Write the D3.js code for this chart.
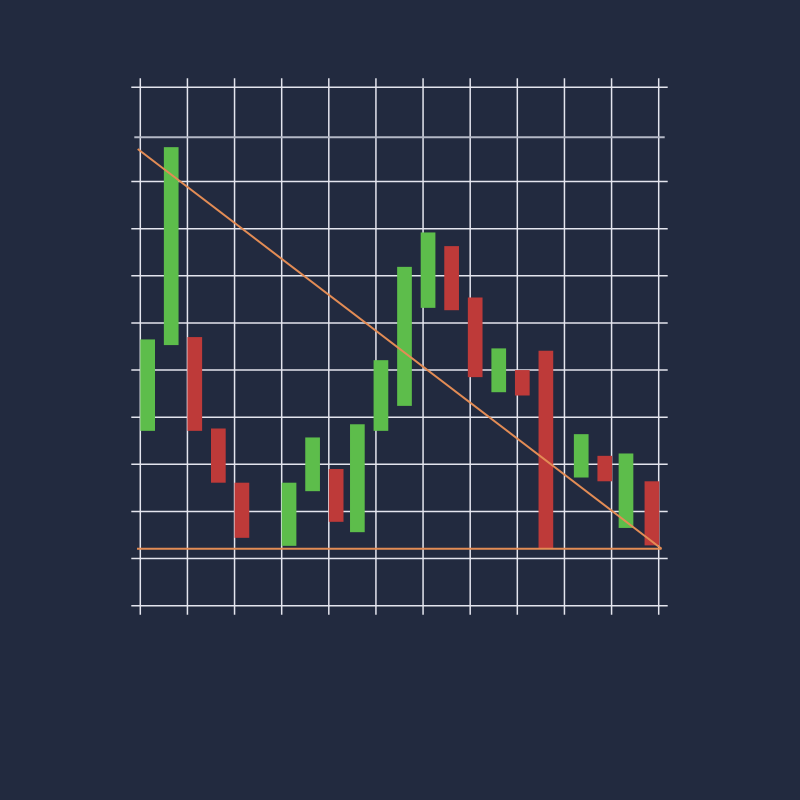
<!DOCTYPE html>
<html>
<head>
<meta charset="utf-8">
<script src="https://cdn.jsdelivr.net/npm/d3@7"></script>
<style>
html,body{margin:0;padding:0;background:#222a3f;}
svg{display:block;}
</style>
</head>
<body>
<svg id="chart" width="800" height="800"></svg>
<script>
// ---- data ----
const days   = [0, 1, 2, 3, 4, 6, 7, 8, 8.9, 9.9, 10.9, 11.9, 12.9, 13.9, 14.9, 15.9, 16.9, 18.4, 19.4, 20.3, 21.4];
const opens  = [37.1, 55.3, 57.0, 37.6, 26.1, 12.7, 24.3, 29.0, 15.6, 37.1, 42.4, 63.2, 76.3, 65.4, 45.3, 50.0, 54.1, 27.2, 31.8, 16.5, 26.4];
const closes = [56.5, 97.3, 37.1, 26.1, 14.4, 26.1, 35.7, 17.8, 38.5, 52.1, 71.9, 79.2, 62.7, 48.5, 54.6, 44.6, 12.1, 36.4, 26.4, 32.3, 12.8];
const xTicks = [0, 2, 4, 6, 8, 10, 12, 14, 16, 18, 20, 22];
const yTicks = [0, 10, 20, 30, 40, 50, 60, 70, 80, 90, 99.4, 110];
const trendX = [-0.11, 22.12];
const trendY = [96.9, 12.1];
const supportX = [-0.14, 22.12];
const supportY = [12.1, 12.1];

// ---- layout ----
const svg = d3.select('#chart');
const x = d3.scaleLinear().domain([0, 22]).range([140.3, 658.7]);
const y = d3.scaleLinear().domain([0, 110]).range([605.7, 87.3]);
const ext = 9;
const candleW = 14.7;

// grid
const grid = svg.append('g');
grid.selectAll('line.v').data(xTicks).join('line')
  .attr('class', 'v')
  .attr('x1', d => x(d)).attr('x2', d => x(d))
  .attr('y1', y(110) - ext).attr('y2', y(0) + ext)
  .attr('stroke', '#e4e5ee').attr('stroke-width', 1.5);
grid.selectAll('line.h').data(yTicks).join('line')
  .attr('class', 'h')
  .attr('x1', d => d === 99.4 ? x(0) - ext + 3 : x(0) - ext)
  .attr('x2', d => d === 99.4 ? x(22) + ext - 3 : x(22) + ext)
  .attr('y1', d => y(d)).attr('y2', d => y(d))
  .attr('stroke', d => d === 99.4 ? '#b4b8c6' : '#e4e5ee')
  .attr('stroke-width', d => d === 99.4 ? 2 : 1.5);

// candles
const candles = days.map((d, i) => ({day: d, open: opens[i], close: closes[i]}));
svg.append('g').selectAll('rect').data(candles).join('rect')
  .attr('x', d => x(d.day))
  .attr('width', candleW)
  .attr('y', d => y(Math.max(d.open, d.close)))
  .attr('height', d => Math.abs(y(d.open) - y(d.close)))
  .attr('fill', d => d.close >= d.open ? '#5dbd4b' : '#be3a39');

// lines
const line = d3.line().x(d => x(d[0])).y(d => y(d[1]));
svg.append('path')
  .attr('d', line(d3.zip(supportX, supportY)))
  .attr('fill', 'none').attr('stroke', '#e38c55').attr('stroke-width', 2);
svg.append('path')
  .attr('d', line(d3.zip(trendX, trendY)))
  .attr('fill', 'none').attr('stroke', '#e38c55').attr('stroke-width', 2);
</script>
</body>
</html>
